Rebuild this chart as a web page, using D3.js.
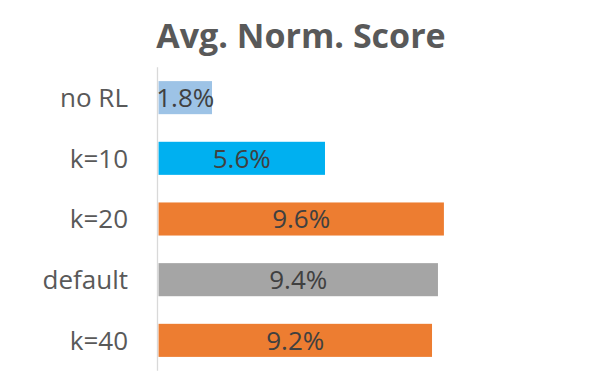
<!DOCTYPE html>
<html><head><meta charset="utf-8">
<script src="https://cdn.jsdelivr.net/npm/d3@7"></script>
<style>html,body{margin:0;padding:0;background:#fff;}svg{display:block;}</style>
</head><body>
<script>
const categories = ["no RL", "k=10", "k=20", "default", "k=40"];
const values = [1.8, 5.6, 9.6, 9.4, 9.2];
const colors = ["#9DC3E6", "#00B0F0", "#ED7D31", "#A5A5A5", "#ED7D31"];
const title = "Avg. Norm. Score";

const W = 605, H = 383;
const svg = d3.select("body").append("svg").attr("width", W).attr("height", H);
const font = "'Open Sans', sans-serif";

const x = d3.scaleLinear().domain([0, 10]).range([158.5, 455.8]);
const y = d3.scaleBand().domain(categories).range([67.3, 370.7]).paddingInner(0.455).paddingOuter(0.2275);

svg.append("text").attr("x", 301).attr("y", 48).attr("text-anchor", "middle")
  .attr("font-family", font).attr("font-weight", "bold").attr("font-size", 34)
  .attr("fill", "#595959").text(title);

svg.selectAll("rect.bar").data(values).enter().append("rect")
  .attr("class", "bar")
  .attr("x", x(0))
  .attr("y", (d, i) => y(categories[i]))
  .attr("width", d => x(d) - x(0))
  .attr("height", y.bandwidth())
  .attr("fill", (d, i) => colors[i]);

svg.append("line").attr("x1", 157.5).attr("x2", 157.5).attr("y1", 67.3).attr("y2", 370.7)
  .attr("stroke", "#D9D9D9").attr("stroke-width", 1.3);

svg.selectAll("text.cat").data(categories).enter().append("text")
  .attr("class", "cat")
  .attr("x", 128)
  .attr("y", d => y(d) + y.bandwidth() / 2)
  .attr("dy", "0.36em")
  .attr("text-anchor", "end")
  .attr("font-family", font).attr("font-size", 26).attr("fill", "#595959")
  .text(d => d);

svg.selectAll("text.val").data(values).enter().append("text")
  .attr("class", "val")
  .attr("x", d => (x(0) + x(d)) / 2)
  .attr("y", (d, i) => y(categories[i]) + y.bandwidth() / 2)
  .attr("dy", "0.36em")
  .attr("text-anchor", "middle")
  .attr("font-family", font).attr("font-size", 26).attr("fill", "#404040")
  .text(d => d.toFixed(1) + "%");
</script>
</body></html>
